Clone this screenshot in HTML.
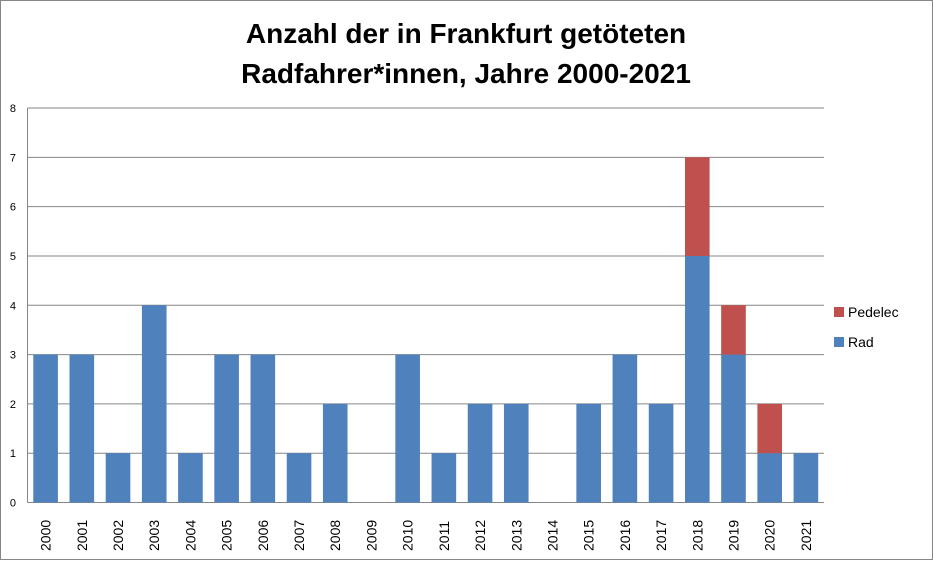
<!DOCTYPE html>
<html><head><meta charset="utf-8"><style>
body{margin:0;background:#fff;}
svg{display:block;font-family:"Liberation Sans",sans-serif;}
</style></head><body>
<svg id="chart" width="934" height="561">
<rect x="0.5" y="0.5" width="932" height="559" fill="#fff" stroke="#868686"/>
<text x="466" y="43" text-anchor="middle" font-size="28" font-weight="bold" fill="#000">Anzahl der in Frankfurt getöteten</text>
<text x="466" y="83" text-anchor="middle" font-size="28" font-weight="bold" fill="#000">Radfahrer*innen, Jahre 2000-2021</text>
<g id="grid"></g><g id="bars"></g><g id="xlabels"></g><g id="ylabels"></g>
<rect x="834" y="307" width="10" height="10" fill="#C0504D"/>
<text x="848" y="317" font-size="14" fill="#000">Pedelec</text>
<rect x="834" y="337" width="10" height="10" fill="#4F81BD"/>
<text x="848" y="347" font-size="14" fill="#000">Rad</text>
</svg>
<script>
const years=["2000","2001","2002","2003","2004","2005","2006","2007","2008","2009","2010","2011","2012","2013","2014","2015","2016","2017","2018","2019","2020","2021"];
const rad=[3,3,1,4,1,3,3,1,2,0,3,1,2,2,0,2,3,2,5,3,1,1];
const pedelec=[0,0,0,0,0,0,0,0,0,0,0,0,0,0,0,0,0,0,2,1,1,0];
const yTicks=[0,1,2,3,4,5,6,7,8];
const NS="http://www.w3.org/2000/svg";
const X0=27.5,X1=824,Y0=502.5,Y1=108,YMAX=8;
const bw=(X1-X0)/years.length;
function xs(i){return X0+bw*i;}
function ys(v){return Y0-(Y0-Y1)*v/YMAX;}
function mk(t,a){const e=document.createElementNS(NS,t);for(const k in a)e.setAttribute(k,a[k]);return e;}
const grid=document.getElementById('grid'),bars=document.getElementById('bars'),xl=document.getElementById('xlabels'),yl=document.getElementById('ylabels');
yTicks.forEach(v=>{
 const l=mk('line',{x1:X0,x2:X1,y1:ys(v),y2:ys(v),stroke:'#868686','stroke-width':1});
 
 
 grid.appendChild(l);
 const t=mk('text',{x:16,y:ys(v)+4,'text-anchor':'end','font-size':11,fill:'#000'});
 t.textContent=v;
 
 
 yl.appendChild(t);
});
const ax=mk('line',{x1:X0,x2:X0,y1:Y1,y2:Y0,stroke:'#868686'});


grid.appendChild(ax);
const w=bw*0.68;
years.forEach((y,i)=>{
 const x=xs(i)+(bw-w)/2;
 if(rad[i]>0){
  const r=mk('rect',{x:x,y:ys(rad[i]),width:w,height:ys(0)-ys(rad[i]),fill:'#4F81BD'});
  
  
  bars.appendChild(r);
 }
 if(pedelec[i]>0){
  const p=mk('rect',{x:x,y:ys(rad[i]+pedelec[i]),width:w,height:ys(rad[i])-ys(rad[i]+pedelec[i]),fill:'#C0504D'});
  
  
  bars.appendChild(p);
 }
 const cx=xs(i)+bw/2+5;
 const t=mk('text',{x:cx,y:551,'font-size':14,fill:'#000',transform:'rotate(-90 '+cx+' 551)'});
 t.textContent=y;
 
 
 xl.appendChild(t);
});
</script>
</body></html>
